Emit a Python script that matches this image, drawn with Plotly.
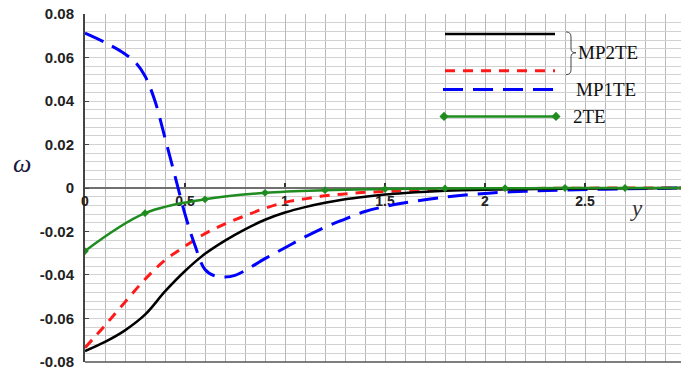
import plotly.graph_objects as go

# ---- data ----
x_mp2_a = [0, 0.1, 0.2, 0.3, 0.4, 0.5, 0.6, 0.7, 0.8, 0.9, 1.0, 1.1, 1.2, 1.3, 1.4, 1.5, 1.6, 1.8,
           2.0, 2.4, 2.8, 3.0]
w_mp2_a = [-0.075, -0.0708, -0.0655, -0.0583, -0.0476, -0.0382, -0.0303, -0.0242, -0.019, -0.0146,
           -0.0113, -0.0088, -0.0068, -0.0052, -0.004, -0.003, -0.0023, -0.0013, -0.0008, -0.0003,
           -0.0001, 0.0]

x_mp2_b = [0, 0.1, 0.2, 0.3, 0.4, 0.5, 0.6, 0.7, 0.8, 0.9, 1.0, 1.1, 1.2, 1.3, 1.4, 1.5, 1.6, 1.8,
           2.0, 2.4, 3.0]
w_mp2_b = [-0.0735, -0.0632, -0.0525, -0.042, -0.0332, -0.0268, -0.021, -0.0165, -0.0128, -0.0093,
           -0.0066, -0.005, -0.0036, -0.0027, -0.002, -0.0016, -0.0012, -0.0007, -0.0004, -0.0001,
           0.0]

x_mp1 = [0, 0.1, 0.2, 0.25, 0.3, 0.35, 0.4, 0.45, 0.5, 0.55, 0.6, 0.65, 0.7, 0.75, 0.8, 0.9,
         1.0, 1.1, 1.2, 1.3, 1.4, 1.5, 1.6, 1.8, 2.0, 2.2, 2.4, 2.7, 3.0]
w_mp1 = [0.0713, 0.067, 0.0617, 0.058, 0.0515, 0.040, 0.023, 0.0055, -0.012, -0.0265, -0.0375,
         -0.0405, -0.041, -0.0402, -0.038, -0.0325, -0.0275, -0.0225, -0.018, -0.0143, -0.0108,
         -0.0085, -0.0068, -0.0042, -0.0025, -0.0015, -0.0009, -0.0004, 0.0]

x_2te = [0, 0.3, 0.6, 0.9, 1.2, 1.5, 1.8, 2.1, 2.4, 2.7, 3.0]
w_2te = [-0.029, -0.0116, -0.0052, -0.0022, -0.001, -0.0005, -0.0002, -0.0001, 0.0, 0.0, 0.0]

y_tickvals = [0.08, 0.06, 0.04, 0.02, 0, -0.02, -0.04, -0.06, -0.08]
y_ticktext = ["0.08", "0.06", "0.04", "0.02", "0", "-0.02", "-0.04", "-0.06", "-0.08"]
x_tickvals = [0, 0.5, 1, 1.5, 2, 2.5]
x_ticktext = ["0", "0.5", "1", "1.5", "2", "2.5"]

legend_labels = ["MP2TE", "MP1TE", "2TE"]

BLACK = "#000000"
RED = "#ff1a1a"
BLUE = "#0000ff"
GREEN = "#1e8c1e"

fig = go.Figure()
fig.add_trace(go.Scatter(x=x_mp2_b, y=w_mp2_b, mode="lines",
                         line=dict(color=RED, width=3, dash="10px,8px", shape="spline")))
fig.add_trace(go.Scatter(x=x_mp1, y=w_mp1, mode="lines",
                         line=dict(color=BLUE, width=3, dash="20px,10px", shape="spline")))
fig.add_trace(go.Scatter(x=x_mp2_a, y=w_mp2_a, mode="lines",
                         line=dict(color=BLACK, width=2.5, shape="spline")))
fig.add_trace(go.Scatter(x=x_2te, y=w_2te, mode="lines+markers",
                         line=dict(color=GREEN, width=2.5, shape="spline"),
                         marker=dict(symbol="diamond", size=6, color=GREEN)))

W, H = 681, 370
L, R, T, B = 85, 0, 14, 6
pw, ph = W - L - R, H - T - B


def px(xp):
    return (xp - L) / pw


def py(yp):
    return (H - B - yp) / ph


shapes = []
annotations = []

# legend samples
shapes.append(dict(type="line", xref="paper", yref="paper", x0=px(445), x1=px(555), y0=py(34), y1=py(34),
                   line=dict(color=BLACK, width=2.5)))
shapes.append(dict(type="line", xref="paper", yref="paper", x0=px(445), x1=px(555), y0=py(71), y1=py(71),
                   line=dict(color=RED, width=3, dash="10px,8px")))
shapes.append(dict(type="line", xref="paper", yref="paper", x0=px(443), x1=px(555), y0=py(90), y1=py(90),
                   line=dict(color=BLUE, width=3, dash="20px,10px")))
shapes.append(dict(type="line", xref="paper", yref="paper", x0=px(444), x1=px(556), y0=py(117), y1=py(117),
                   line=dict(color=GREEN, width=2.5)))
fig.add_trace(go.Scatter(x=[px(444), px(556)], y=[py(117), py(117)], xaxis="x2", yaxis="y2",
                         mode="markers", marker=dict(symbol="diamond", size=7, color=GREEN),
                         hoverinfo="skip"))

# brace
bx0, bx1, btip = 566, 571, 576
yt, ym, yb = 32, 53, 75
path = (f"M {px(bx0)},{py(yt)} Q {px(bx1)},{py(yt)} {px(bx1)},{py(yt+5)} "
        f"L {px(bx1)},{py(ym-4)} Q {px(bx1)},{py(ym)} {px(btip)},{py(ym)} "
        f"Q {px(bx1)},{py(ym)} {px(bx1)},{py(ym+4)} "
        f"L {px(bx1)},{py(yb-5)} Q {px(bx1)},{py(yb)} {px(bx0)},{py(yb)}")
shapes.append(dict(type="path", xref="paper", yref="paper", path=path,
                   line=dict(color="#444444", width=1)))

# bottom frame
shapes.append(dict(type="line", xref="paper", yref="paper", x0=0, x1=1, y0=0, y1=0,
                   line=dict(color="#555555", width=1.5)))

serif = "Liberation Serif"
for lab, xp, yp in zip(legend_labels, [576, 574, 571], [53, 90, 117]):
    annotations.append(dict(text=lab, xref="paper", yref="paper", x=px(xp), y=py(yp),
                            xanchor="left", yanchor="middle", showarrow=False,
                            font=dict(family=serif, size=19, color="#111111")))

annotations.append(dict(text="<i>ω</i>", xref="paper", yref="paper", x=px(22), y=py(164),
                        xanchor="center", yanchor="middle", showarrow=False,
                        font=dict(family=serif, size=26, color="#1a1a40")))
annotations.append(dict(text="<i>y</i>", xref="paper", yref="paper", x=px(636), y=py(210),
                        xanchor="center", yanchor="middle", showarrow=False,
                        font=dict(family=serif, size=23, color="#333333")))

GRIDH = "#d2d2d2"
GRIDV = "#b8b8b8"

fig.update_layout(
    width=W, height=H,
    margin=dict(l=L, r=R, t=T, b=B),
    paper_bgcolor="white", plot_bgcolor="white",
    showlegend=False,
    shapes=shapes,
    annotations=annotations,
    xaxis=dict(range=[0, pw / 200.0], anchor="free", position=0.5,
               tickvals=x_tickvals, ticktext=x_ticktext,
               showgrid=True, gridcolor=GRIDV, gridwidth=1,
               minor=dict(dtick=0.1, showgrid=True, gridcolor=GRIDV, gridwidth=1),
               showline=True, linecolor="#707070", linewidth=2,
               ticks="inside", ticklen=4, tickcolor="#333333", tickwidth=1.5,
               tickfont=dict(family="Liberation Sans", size=14, color="#222222", weight="bold"),
               zeroline=False, layer="below traces"),
    yaxis=dict(range=[-0.08005, 0.08005],
               tickvals=y_tickvals, ticktext=y_ticktext,
               showgrid=True, gridcolor=GRIDH, gridwidth=1,
               minor=dict(dtick=0.004, tick0=0, showgrid=True, gridcolor=GRIDH, gridwidth=1),
               showline=True, linecolor="#444444", linewidth=2,
               ticks="inside", ticklen=4, tickcolor="#444444",
               tickfont=dict(family="Liberation Sans", size=15, color="#222222", weight="bold"),
               ticklabeloverflow="allow",
               zeroline=False, ticklabelstandoff=6, layer="below traces"),
    xaxis2=dict(range=[0, 1], overlaying="x", visible=False, fixedrange=True),
    yaxis2=dict(range=[0, 1], overlaying="y", visible=False, fixedrange=True),
)

fig.write_html("out.html", config={"displayModeBar": False},
               post_script="document.body.style.margin='0';")
